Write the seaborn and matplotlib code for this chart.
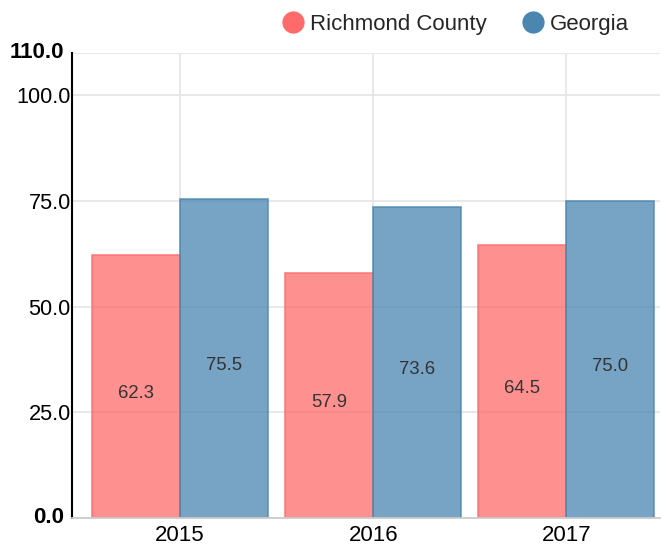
import matplotlib.pyplot as plt
import seaborn as sns
import pandas as pd
from matplotlib.lines import Line2D

years = ['2015', '2016', '2017']
richmond = [62.3, 57.9, 64.5]
georgia = [75.5, 73.6, 75.0]
series_names = ['Richmond County', 'Georgia']
yticks = [0, 25, 50, 75, 100, 110]

df = pd.DataFrame({
    'Year': years * 2,
    'Value': richmond + georgia,
    'Area': [series_names[0]] * 3 + [series_names[1]] * 3,
})

sns.set_style('white')
plt.rcParams['font.family'] = ['Liberation Sans', 'DejaVu Sans']

red = '#ff6b6b'
blue = '#4a86b0'

fig = plt.figure(figsize=(6.61, 5.51), dpi=100)
ax = fig.add_axes([0.109, 0.06, 0.89, 0.844])

sns.barplot(data=df, x='Year', y='Value', hue='Area', palette=[red, blue],
            width=0.91, dodge=True, ax=ax, legend=False, zorder=2)

for p, col in zip(ax.patches, [red] * 3 + [blue] * 3):
    p.set_facecolor(col)
    p.set_alpha(0.75)
    p.set_edgecolor(col)
    p.set_linewidth(1.3)

for p in ax.patches:
    h = p.get_height()
    if h > 0:
        ax.text(p.get_x() + p.get_width() / 2, h / 2 - 1.6, f'{h:.1f}',
                ha='center', va='center', fontsize=13.3, color='#333333', zorder=3)

ax.set_ylim(0, 110)
ax.set_xlim(-0.56, 2.487)
ax.set_yticks(yticks)
ax.set_yticklabels(['' if v in (0, 110) else f'{v:.1f}' for v in yticks])
for v in (0, 110):
    ax.annotate(f'{v:.1f}', xy=(0, v), xycoords=('axes fraction', 'data'),
                xytext=(-8, 0), textcoords='offset pixels', ha='right', va='center',
                fontsize=16, fontweight='bold', color='black')
ax.tick_params(axis='y', length=0, pad=1, labelsize=15.7, labelcolor='black')
ax.tick_params(axis='x', length=0, pad=5, labelsize=16, labelcolor='black')
ax.set_xlabel('')
ax.set_ylabel('')

ax.grid(True, color='#e6e6e6', linewidth=1.3, zorder=0)
ax.set_axisbelow(True)
for s in ['top', 'right']:
    ax.spines[s].set_visible(False)
ax.spines['left'].set_color('black')
ax.spines['left'].set_linewidth(1.5)
ax.spines['bottom'].set_color('#cccccc')
ax.spines['bottom'].set_linewidth(1.3)

handles = [Line2D([], [], marker='o', linestyle='', markersize=16, color=c, markeredgewidth=0)
           for c in [red, blue]]
fig.legend(handles, series_names, loc='center right', bbox_to_anchor=(0.968, 0.956),
           ncol=2, frameon=False, fontsize=16, handletextpad=0.25, columnspacing=1.6,
           borderpad=0, handlelength=1.0)

fig.savefig('out.png', dpi=100)
